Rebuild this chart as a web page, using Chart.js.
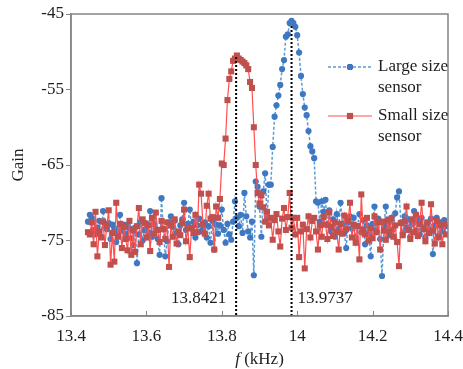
<!DOCTYPE html>
<html>
<head>
<meta charset="utf-8">
<script src="https://cdn.jsdelivr.net/npm/chart.js@4.4.1/dist/chart.umd.min.js"></script>
<style>
  html, body { margin: 0; padding: 0; background: #fff; }
</style>
</head>
<body>
<canvas id="grafico" width="463" height="369"></canvas>
<script>
// frequency sweep (kHz), same grid for both sensors
const frecuencias = [
  13.445, 13.450, 13.455, 13.460, 13.465, 13.470, 13.475, 13.480, 13.485, 13.490,
  13.495, 13.500, 13.505, 13.510, 13.515, 13.520, 13.525, 13.530, 13.535, 13.540,
  13.545, 13.550, 13.555, 13.560, 13.565, 13.570, 13.575, 13.580, 13.585, 13.590,
  13.595, 13.600, 13.605, 13.610, 13.615, 13.620, 13.625, 13.630, 13.635, 13.640,
  13.645, 13.650, 13.655, 13.660, 13.665, 13.670, 13.675, 13.680, 13.685, 13.690,
  13.695, 13.700, 13.705, 13.710, 13.715, 13.720, 13.725, 13.730, 13.735, 13.740,
  13.745, 13.750, 13.755, 13.760, 13.765, 13.770, 13.775, 13.780, 13.785, 13.790,
  13.795, 13.800, 13.805, 13.810, 13.815, 13.820, 13.825, 13.830, 13.835, 13.840,
  13.845, 13.850, 13.855, 13.860, 13.865, 13.870, 13.875, 13.880, 13.885, 13.890,
  13.895, 13.900, 13.905, 13.910, 13.915, 13.920, 13.925, 13.930, 13.935, 13.940,
  13.945, 13.950, 13.955, 13.960, 13.965, 13.970, 13.975, 13.980, 13.985, 13.990,
  13.995, 14.000, 14.005, 14.010, 14.015, 14.020, 14.025, 14.030, 14.035, 14.040,
  14.045, 14.050, 14.055, 14.060, 14.065, 14.070, 14.075, 14.080, 14.085, 14.090,
  14.095, 14.100, 14.105, 14.110, 14.115, 14.120, 14.125, 14.130, 14.135, 14.140,
  14.145, 14.150, 14.155, 14.160, 14.165, 14.170, 14.175, 14.180, 14.185, 14.190,
  14.195, 14.200, 14.205, 14.210, 14.215, 14.220, 14.225, 14.230, 14.235, 14.240,
  14.245, 14.250, 14.255, 14.260, 14.265, 14.270, 14.275, 14.280, 14.285, 14.290,
  14.295, 14.300, 14.305, 14.310, 14.315, 14.320, 14.325, 14.330, 14.335, 14.340,
  14.345, 14.350, 14.355, 14.360, 14.365, 14.370, 14.375, 14.380, 14.385, 14.390,
  14.395];

// Large size sensor
const gainLarge = [
  -72.5, -71.6, -72.0, -73.6, -74.2, -73.3, -72.4, -74.5, -71.1, -72.8,
  -73.5, -72.7, -74.8, -72.9, -73.4, -75.2, -73.9, -71.6, -73.7, -72.9,
  -74.1, -72.9, -73.4, -74.7, -75.6, -73.3, -78.0, -74.2, -72.5, -75.0,
  -73.6, -72.8, -73.9, -71.1, -74.5, -72.8, -73.5, -74.8, -76.9, -69.4,
  -73.5, -77.1, -75.1, -72.6, -71.8, -73.2, -72.4, -74.0, -75.5, -73.0,
  -72.2, -70.0, -73.6, -72.8, -70.9, -73.4, -72.5, -74.6, -73.0, -72.1,
  -73.8, -73.5, -72.6, -74.6, -73.1, -75.3, -72.4, -76.2, -72.9, -74.1,
  -73.0, -70.9, -73.6, -75.3, -72.8, -74.2, -74.9, -72.5, -69.8, -72.0,
  -73.1, -71.6, -74.0, -68.7, -71.8, -73.8, -74.6, -72.5, -79.6, -67.2,
  -67.9, -70.5, -74.5, -68.5, -66.1, -72.0, -67.6, -67.6, -62.6, -58.6,
  -57.1, -55.8, -54.4, -52.3, -51.1, -48.0, -47.7, -46.2, -45.9, -46.2,
  -46.7, -47.8, -50.1, -53.2, -55.6, -57.4, -58.4, -60.5, -62.5, -63.2,
  -64.1, -69.8, -70.0, -72.5, -69.8, -71.2, -69.6, -72.9, -71.0, -73.8,
  -72.2, -74.5, -71.5, -73.5, -70.0, -72.8, -74.0, -76.0, -72.6, -71.8,
  -73.4, -72.0, -74.6, -73.1, -71.5, -73.9, -72.3, -75.5, -73.0, -74.2,
  -77.1, -72.8, -70.5, -73.6, -72.1, -74.8, -79.7, -73.2, -70.5, -72.9,
  -74.3, -72.0, -73.5, -71.4, -69.3, -68.5, -72.6, -74.0, -71.8, -73.3,
  -72.2, -74.5, -72.8, -71.1, -73.7, -72.4, -74.2, -72.0, -73.3, -74.6,
  -72.7, -73.5, -72.1, -76.8, -73.0, -72.0, -74.4, -72.6, -73.8, -72.3,
  -73.1];

// Small size sensor
const gainSmall = [
  -73.9, -74.2, -72.6, -75.5, -71.2, -77.1, -73.8, -74.6, -72.5, -75.6,
  -73.0, -71.0, -78.2, -74.0, -77.8, -70.0, -74.5, -72.8, -76.0, -73.2,
  -74.8, -76.3, -72.4, -76.9, -73.7, -76.5, -73.1, -70.7, -75.5, -72.2,
  -72.7, -74.6, -73.0, -76.4, -72.0, -74.1, -71.3, -73.6, -75.2, -72.4,
  -73.5, -74.8, -72.6, -78.5, -73.0, -74.5, -72.2, -75.4, -73.8, -74.3,
  -72.7, -70.9, -75.1, -73.4, -77.2, -73.3, -74.0, -71.6, -73.9, -67.6,
  -68.8, -72.8, -74.1, -70.4, -68.8, -72.1, -71.9, -76.2, -70.5, -72.0,
  -69.5, -64.8, -65.0, -61.5, -56.4, -53.6, -52.6, -51.2, -50.9, -50.5,
  -50.9, -51.1, -51.3, -51.5, -51.8, -52.3, -54.0, -54.8, -60.0, -65.0,
  -68.7, -70.1, -69.0, -70.6, -72.5, -71.2, -73.0, -72.0, -74.9, -72.3,
  -71.5, -73.8, -75.8, -72.1, -70.7, -73.6, -71.9, -68.7, -73.3, -72.0,
  -74.2, -72.0, -77.2, -73.8, -72.9, -78.7, -73.5, -71.8, -74.6, -72.4,
  -72.0, -73.8, -76.2, -73.0, -74.5, -71.9, -72.9, -74.8, -71.3, -73.2,
  -74.4, -72.6, -73.9, -76.2, -72.8, -74.1, -71.7, -73.5, -72.4, -70.0,
  -74.6, -72.9, -75.3, -73.1, -77.5, -68.9, -73.6, -74.2, -72.0, -75.0,
  -73.4, -74.7, -71.8, -73.9, -72.6, -76.2, -72.5, -73.7, -74.9, -72.3,
  -73.8, -72.1, -74.5, -73.0, -75.2, -78.4, -72.7, -74.3, -72.5, -70.5,
  -73.6, -74.8, -72.2, -73.9, -71.6, -74.4, -72.8, -70.0, -73.5, -75.1,
  -72.6, -74.0, -70.2, -73.7, -75.4, -72.4, -74.6, -73.0, -75.5, -72.8,
  -74.2];

const seriesNames = [["Large size", "sensor"], ["Small size", "sensor"]];
const peakFreqs = [13.838, 13.985];       // where the dotted markers sit
const peakTops = [-50.7, -46.6];
const peakLabels = ["13.8421", "13.9737"];
const xTicks = [13.4, 13.6, 13.8, 14, 14.2, 14.4];
const xTickLabels = ["13.4", "13.6", "13.8", "14", "14.2", "14.4"];
const yTicks = [-85, -75, -65, -55, -45];

const serif = "'Liberation Serif', 'Times New Roman', serif";
const gris = '#858585';
const texto = '#1e1e1e';
const azulLinea = '#5b9bd5', azulPunto = '#3f78c2';
const rojoLinea = '#ff4f4f', rojoPunto = '#c0504d';

const puntos = (ys) => frecuencias.map((f, i) => ({x: f, y: ys[i]}));
const vertical = (i) => [{x: peakFreqs[i], y: peakTops[i]}, {x: peakFreqs[i], y: yTicks[0]}];

const extras = {
  id: 'extras',
  afterDraw(chart) {
    const {ctx, chartArea: a, scales: {x, y}} = chart;
    ctx.save();
    // frame around plot
    ctx.strokeStyle = gris;
    ctx.lineWidth = 1.5;
    ctx.strokeRect(a.left, a.top, a.right - a.left, a.bottom - a.top);
    // inward ticks on x axis
    ctx.lineWidth = 1;
    xTicks.forEach(v => {
      const px = Math.round(x.getPixelForValue(v)) + 0.5;
      ctx.beginPath(); ctx.moveTo(px, a.bottom); ctx.lineTo(px, a.bottom - 5); ctx.stroke();
    });
    // peak labels
    ctx.fillStyle = texto;
    ctx.font = `17px ${serif}`;
    ctx.textBaseline = 'alphabetic';
    const yl = y.getPixelForValue(-83.3);
    ctx.textAlign = 'right';
    ctx.fillText(peakLabels[0], x.getPixelForValue(peakFreqs[0]) - 10, yl);
    ctx.textAlign = 'left';
    ctx.fillText(peakLabels[1], x.getPixelForValue(peakFreqs[1]) + 6, yl);

    // legend
    const ds = chart.data.datasets;
    const filas = [{d: ds[1], y: 67, n: seriesNames[0]}, {d: ds[0], y: 116, n: seriesNames[1]}];
    filas.forEach(f => {
      ctx.strokeStyle = f.d.borderColor;
      ctx.lineWidth = f.d.borderWidth;
      ctx.setLineDash(f.d.borderDash || []);
      ctx.beginPath(); ctx.moveTo(328, f.y); ctx.lineTo(372, f.y); ctx.stroke();
      ctx.setLineDash([]);
      Chart.helpers.drawPoint(ctx, {pointStyle: f.d.pointStyle, radius: f.d.pointRadius, borderWidth: 0}, 350, f.y);
      ctx.fillStyle = f.d.pointBackgroundColor;
      ctx.fill();
      ctx.fillStyle = texto;
      ctx.textAlign = 'left';
      ctx.textBaseline = 'middle';
      ctx.fillText(f.n[0], 378, f.y);
      ctx.fillText(f.n[1], 378, f.y + 21);
    });

    // axis titles
    ctx.textBaseline = 'alphabetic';
    ctx.textAlign = 'left';
    ctx.font = `italic 17px ${serif}`;
    const wf = ctx.measureText('f ').width;
    ctx.font = `17px ${serif}`;
    const wr = ctx.measureText('(kHz)').width;
    const x0 = (a.left + a.right) / 2 - (wf + wr) / 2;
    ctx.font = `italic 17px ${serif}`;
    ctx.fillText('f', x0, 364);
    ctx.font = `17px ${serif}`;
    ctx.fillText('(kHz)', x0 + wf, 364);

    ctx.translate(19, (a.top + a.bottom) / 2);
    ctx.rotate(-Math.PI / 2);
    ctx.textAlign = 'center';
    ctx.textBaseline = 'middle';
    ctx.fillText('Gain', 0, 0);
    ctx.restore();
  }
};

const ctx = document.getElementById('grafico').getContext('2d');
const grafico = new Chart(ctx, {
  type: 'line',
  data: {
    datasets: [
      {
        label: seriesNames[1].join(' '),
        data: puntos(gainSmall),
        borderColor: rojoLinea,
        borderWidth: 1.2,
        pointStyle: 'rect',
        pointRadius: 4.3,
        pointBackgroundColor: rojoPunto,
        pointBorderColor: rojoPunto,
        pointBorderWidth: 0,
        order: 1
      },
      {
        label: seriesNames[0].join(' '),
        data: puntos(gainLarge),
        borderColor: azulLinea,
        borderWidth: 1.5,
        borderDash: [3, 2],
        pointStyle: 'circle',
        pointRadius: 3.1,
        pointBackgroundColor: azulPunto,
        pointBorderColor: azulPunto,
        pointBorderWidth: 0,
        order: 2
      },
      {data: vertical(0), borderColor: '#000', borderWidth: 2, borderDash: [2, 2], pointRadius: 0, order: 0},
      {data: vertical(1), borderColor: '#000', borderWidth: 2, borderDash: [2, 2], pointRadius: 0, order: 0}
    ]
  },
  options: {
    responsive: false,
    animation: false,
    devicePixelRatio: 1,
    layout: {padding: {top: 14, right: 0, left: 0, bottom: 0}},
    plugins: {legend: {display: false}, tooltip: {enabled: false}},
    scales: {
      x: {
        type: 'linear',
        min: 13.4,
        max: 14.4,
        afterBuildTicks: s => { s.ticks = xTicks.map(v => ({value: v})); },
        afterFit: s => { s.height = 53; s.paddingRight = 15; },
        grid: {drawOnChartArea: false, drawTicks: false},
        border: {color: gris, width: 1.5},
        ticks: {
          padding: 10,
          color: texto,
          font: {family: serif, size: 17},
          maxRotation: 0,
          callback: (v, i) => xTickLabels[i]
        }
      },
      y: {
        min: -85,
        max: -45,
        afterBuildTicks: s => { s.ticks = yTicks.map(v => ({value: v})); },
        afterFit: s => { s.width = 71; },
        grid: {drawOnChartArea: false, drawTicks: true, tickLength: 5, tickColor: gris},
        border: {color: gris, width: 1.5},
        ticks: {padding: 2, color: texto, font: {family: serif, size: 17}}
      }
    }
  },
  plugins: [extras]
});
</script>
</body>
</html>
